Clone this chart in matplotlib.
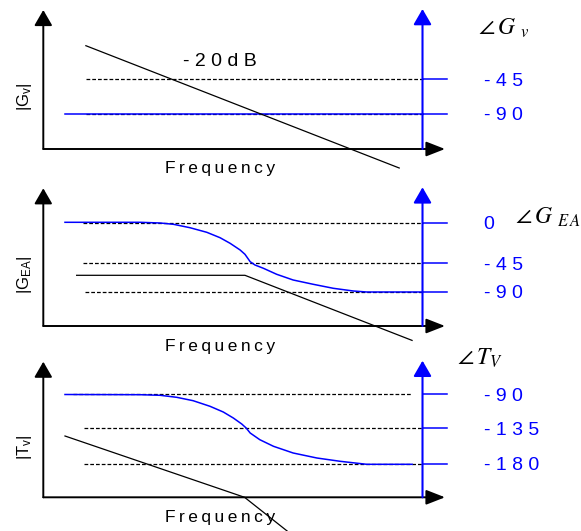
import matplotlib.pyplot as plt

plt.rcParams['font.family'] = ['Liberation Sans', 'DejaVu Sans']
plt.rcParams['mathtext.fontset'] = 'custom'
plt.rcParams['mathtext.rm'] = 'Liberation Sans'
plt.rcParams['mathtext.it'] = 'Liberation Sans:italic'

BLUE = '#0000ff'
TS = '\u2009'

# panel 1 : |Gv| and angle Gv
p1_mag_x = [1.06, 8.86]
p1_mag_y = [10.33, -1.9]
p1_phase_x = [0.54, 9.44]
p1_phase_y = [3.5, 3.5]
p1_levels = [6.97, 3.5]
p1_labels = ['-45', '-90']
p1_dash_start = [1.06, 1.06]
p1_dash_end = [9.44, 9.44]

# panel 2 : |GEA| and angle GEA
p2_mag_x = [0.83, 5.02, 9.18]
p2_mag_y = [5.07, 5.07, -1.44]
p2_phase_x = [0.54, 2.41, 2.91, 3.24, 3.65, 4.07, 4.40, 4.65, 4.90, 5.02, 5.15,
              5.27, 5.48, 5.81, 6.22, 6.72, 7.22, 7.72, 8.05, 9.44]
p2_phase_y = [10.37, 10.37, 10.30, 10.17, 9.83, 9.37, 8.83, 8.27, 7.6, 7.17, 6.43,
              6.1, 5.77, 5.17, 4.6, 4.17, 3.77, 3.5, 3.4, 3.4]
p2_levels = [10.33, 6.27, 3.4]
p2_labels = ['0', '-45', '-90']
p2_dash_start = [1.0, 1.0, 1.04]
p2_dash_end = [9.44, 9.44, 9.44]

# panel 3 : |Tv| and angle Tv
p3_mag_x = [0.54, 5.01, 6.07]
p3_mag_y = [6.13, 0.0, -3.37]
p3_phase_x = [0.54, 2.41, 2.91, 3.32, 3.73, 4.15, 4.48, 4.73, 4.94, 5.05, 5.15,
              5.39, 5.73, 6.22, 6.81, 7.39, 8.05, 9.18]
p3_phase_y = [10.28, 10.26, 10.2, 10.0, 9.66, 9.1, 8.53, 7.93, 7.33, 6.93, 6.43,
              5.76, 5.1, 4.43, 3.93, 3.6, 3.3, 3.3]
p3_levels = [10.3, 6.9, 3.33]
p3_labels = ['-90', '-135', '-180']
p3_dash_start = [0.75, 1.01, 1.01]
p3_dash_end = [9.15, 9.44, 9.44]

W, H = 581, 531
fig = plt.figure(figsize=(W / 100, H / 100), dpi=100)


def spaced(s, sep=' '):
    return sep.join(list(s))


def panel(bot, tip, mag_x, mag_y, ph_x, ph_y, levels, labels, d0, d1,
          ylabel, yl_y, angle, ang_x, ang_y, freq_y):
    top = (bot - tip) / 10
    ax = fig.add_axes([43.3 / W, (H - bot) / H, 401.7 / W, (bot - tip) / H])
    ax.set_xlim(0, 10)
    ax.set_ylim(0, top)
    ax.axis('off')
    # axes with arrow heads
    ax.annotate('', xy=(0, top), xytext=(0, 0), annotation_clip=False,
                arrowprops=dict(arrowstyle='-|>,head_length=0.95,head_width=0.55',
                                mutation_scale=10, lw=1.4, color='black',
                                shrinkA=0, shrinkB=0))
    ax.annotate('', xy=(10, 0), xytext=(0, 0), annotation_clip=False,
                arrowprops=dict(arrowstyle='-|>,head_length=1.15,head_width=0.45',
                                mutation_scale=10, lw=1.4, color='black',
                                shrinkA=0, shrinkB=0))
    ax.annotate('', xy=(9.44, top + 0.1), xytext=(9.44, 0), annotation_clip=False,
                arrowprops=dict(arrowstyle='-|>,head_length=0.95,head_width=0.55',
                                mutation_scale=10, lw=1.5, color=BLUE,
                                shrinkA=0, shrinkB=0))
    for lv, lab, a, b in zip(levels, labels, d0, d1):
        ax.plot([a, b], [lv, lv], color='black', lw=0.9,
                linestyle=(0, (3, 1.6)), clip_on=False)
        ax.plot([9.44, 10.04], [lv, lv], color=BLUE, lw=1.1, clip_on=False)
        ax.text(10.96, lv, spaced(lab), color=BLUE, fontsize=14,
                ha='left', va='center_baseline')
    ax.plot(ph_x, ph_y, color=BLUE, lw=1.1, clip_on=False)
    ax.plot(mag_x, mag_y, color='black', lw=0.9, clip_on=False)
    ax.text(4.40, freq_y, spaced('Frequency', TS), fontsize=12.5,
            ha='center', va='baseline')
    ax.text(-0.48, yl_y, ylabel, fontsize=12, rotation=90,
            ha='center', va='center')
    ax.text(ang_x, ang_y, angle, fontsize=17, math_fontfamily='stix',
            ha='left', va='baseline')
    return ax


ax1 = panel(149, 10, p1_mag_x, p1_mag_y, p1_phase_x, p1_phase_y, p1_levels,
            p1_labels, p1_dash_start, p1_dash_end,
            r'$|\mathrm{G}_{\mathrm{v}}|$', 5.2, r'$\angle\, G_{\;\;v}$', 10.82, 11.47, -2.43)
ax1.text(4.40, 8.8, spaced('-20dB'), fontsize=14, ha='center', va='center')

ax2 = panel(326, 188.3, p2_mag_x, p2_mag_y, p2_phase_x, p2_phase_y, p2_levels,
            p2_labels, p2_dash_start, p2_dash_end,
            r'$|\mathrm{G}_{\mathrm{EA}}|$', 5.1, r'$\angle\, G_{\;\;E\,A}$', 11.74, 10.27, -2.55)

ax3 = panel(497.3, 361.7, p3_mag_x, p3_mag_y, p3_phase_x, p3_phase_y, p3_levels,
            p3_labels, p3_dash_start, p3_dash_end,
            r'$|\mathrm{T}_{\mathrm{v}}|$', 5.06, r'$\angle\, T_{V}$', 10.30, 13.23, -2.44)

fig.savefig('out.png', dpi=100)
